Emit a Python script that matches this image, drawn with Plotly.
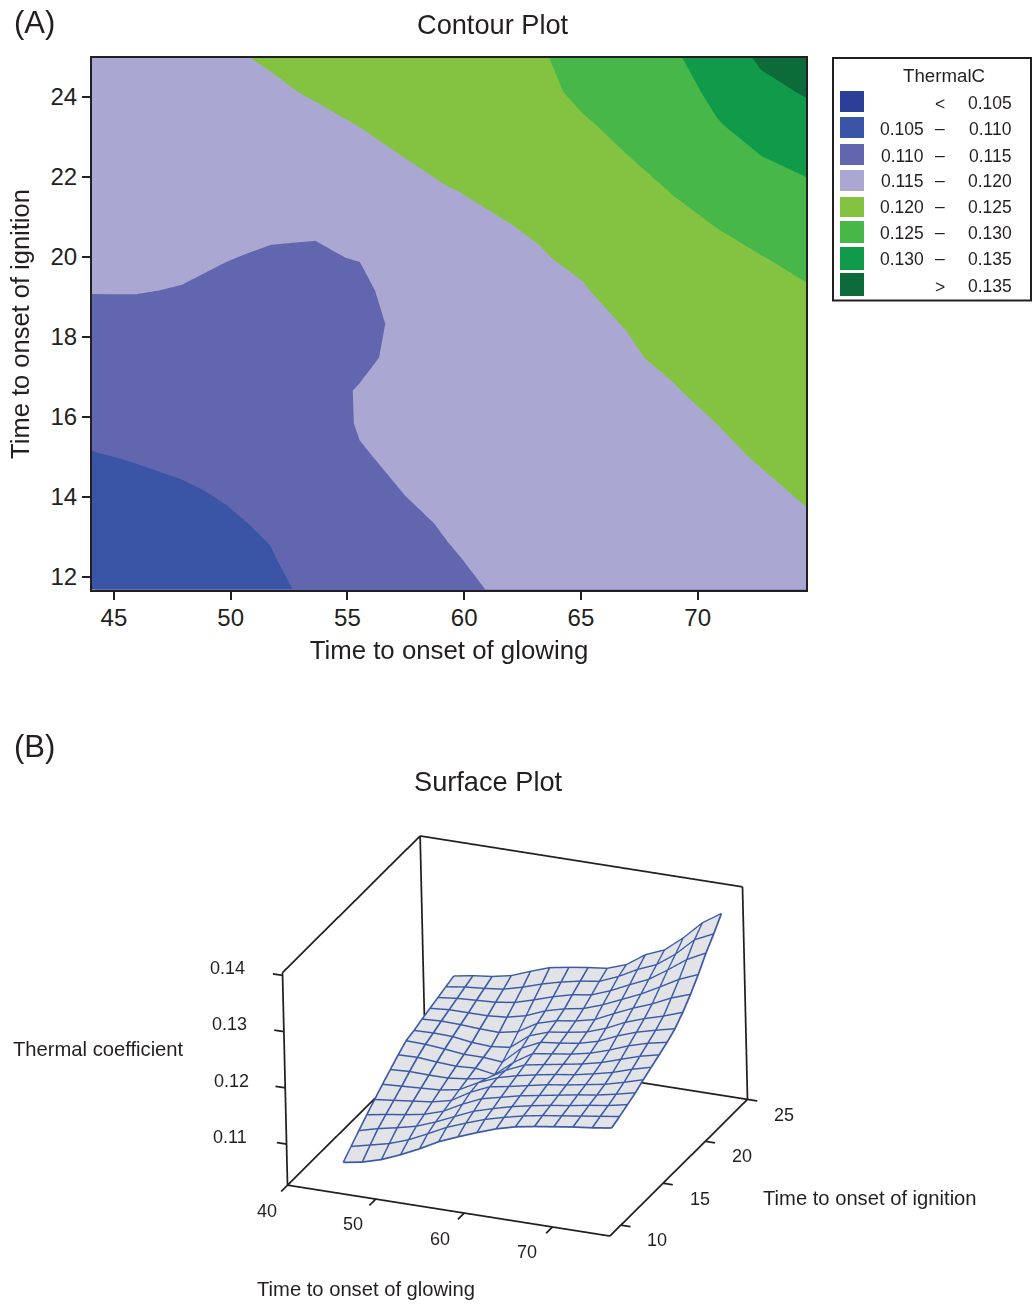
import plotly.graph_objects as go

# ---------- data ----------
# Panel A: contour grid
glowing = [44.06, 45.97, 47.88, 49.79, 51.70, 53.62, 55.53, 57.44, 59.35,
           61.26, 63.17, 65.08, 66.99, 68.90, 70.81, 72.73, 74.64]
ignition = [11.68, 12.51, 13.34, 14.17, 15.00, 15.83, 16.66, 17.49, 18.33,
            19.16, 19.99, 20.82, 21.65, 22.48, 23.31, 24.14, 24.98]
thermal = [
 [.1049,.1062,.1072,.1080,.1088,.1112,.1122,.1131,.1141,.1152,.1160,.1165,.1170,.1174,.1178,.1182,.1186],
 [.1061,.1072,.1080,.1088,.1098,.1116,.1126,.1138,.1148,.1156,.1164,.1169,.1174,.1178,.1182,.1187,.1191],
 [.1074,.1082,.1089,.1096,.1104,.1119,.1130,.1144,.1153,.1160,.1168,.1172,.1178,.1182,.1187,.1192,.1197],
 [.1086,.1092,.1097,.1103,.1109,.1123,.1139,.1151,.1158,.1165,.1171,.1176,.1181,.1186,.1191,.1196,.1203],
 [.1098,.1102,.1106,.1110,.1115,.1127,.1147,.1157,.1162,.1169,.1175,.1180,.1185,.1190,.1195,.1202,.1210],
 [.1109,.1112,.1114,.1117,.1120,.1130,.1153,.1162,.1167,.1173,.1179,.1183,.1189,.1194,.1200,.1210,.1218],
 [.1120,.1122,.1123,.1124,.1126,.1134,.1153,.1163,.1171,.1177,.1183,.1187,.1193,.1198,.1208,.1217,.1225],
 [.1130,.1132,.1131,.1130,.1131,.1137,.1140,.1163,.1176,.1181,.1186,.1191,.1197,.1205,.1217,.1225,.1232],
 [.1141,.1142,.1140,.1137,.1137,.1141,.1130,.1165,.1181,.1185,.1190,.1195,.1201,.1215,.1225,.1233,.1239],
 [.1151,.1151,.1149,.1144,.1142,.1145,.1137,.1175,.1186,.1190,.1194,.1198,.1211,.1224,.1233,.1241,.1247],
 [.1155,.1156,.1155,.1151,.1147,.1146,.1152,.1181,.1190,.1194,.1198,.1205,.1220,.1233,.1242,.1249,.1259],
 [.1160,.1161,.1161,.1158,.1155,.1154,.1164,.1187,.1195,.1198,.1203,.1215,.1230,.1242,.1251,.1264,.1275],
 [.1164,.1167,.1167,.1166,.1165,.1168,.1176,.1194,.1199,.1204,.1212,.1225,.1239,.1251,.1266,.1282,.1292],
 [.1169,.1172,.1173,.1173,.1175,.1180,.1189,.1200,.1208,.1213,.1222,.1236,.1249,.1262,.1281,.1299,.1311],
 [.1173,.1177,.1179,.1181,.1184,.1191,.1201,.1210,.1217,.1221,.1231,.1246,.1260,.1272,.1297,.1318,.1333],
 [.1178,.1183,.1185,.1188,.1194,.1204,.1214,.1221,.1226,.1230,.1240,.1258,.1271,.1282,.1310,.1338,.1354],
 [.1182,.1188,.1191,.1195,.1204,.1218,.1226,.1231,.1235,.1238,.1244,.1268,.1282,.1293,.1323,.1357,.1376],
]
# Panel B: surface mesh nodes
surf_x = [44.06, 46.24, 48.43, 50.61, 52.80, 54.98, 57.17, 59.35, 61.53, 63.72, 65.90, 68.09, 70.27, 72.46, 74.64]
surf_y = [11.08, 12.03, 12.98, 13.93, 14.88, 15.83, 16.78, 17.73, 18.68, 19.63, 20.58, 21.53, 22.48, 23.43, 24.38]
surf_z = [
 [.1042,.1048,.1058,.1072,.1088,.1106,.1120,.1133,.1145,.1154,.1160,.1165,.1170,.1174,.1179],
 [.1056,.1064,.1072,.1084,.1100,.1117,.1130,.1142,.1151,.1159,.1165,.1170,.1175,.1180,.1185],
 [.1070,.1079,.1086,.1094,.1107,.1122,.1137,.1147,.1156,.1163,.1169,.1174,.1180,.1185,.1192],
 [.1084,.1090,.1095,.1101,.1112,.1130,.1145,.1153,.1161,.1167,.1173,.1179,.1184,.1191,.1199],
 [.1097,.1101,.1105,.1109,.1117,.1137,.1152,.1158,.1165,.1172,.1177,.1183,.1189,.1198,.1208],
 [.1110,.1112,.1114,.1116,.1122,.1140,.1154,.1163,.1170,.1176,.1181,.1188,.1196,.1207,.1216],
 [.1122,.1124,.1123,.1123,.1127,.1133,.1153,.1168,.1174,.1180,.1186,.1194,.1205,.1216,.1224],
 [.1134,.1135,.1132,.1130,.1132,.1126,.1153,.1174,.1179,.1184,.1191,.1202,.1215,.1225,.1232],
 [.1145,.1144,.1141,.1137,.1137,.1134,.1164,.1180,.1184,.1189,.1198,.1213,.1225,.1234,.1242],
 [.1149,.1150,.1149,.1144,.1142,.1146,.1172,.1184,.1189,.1195,.1207,.1223,.1235,.1245,.1257],
 [.1155,.1157,.1156,.1154,.1153,.1160,.1180,.1190,.1195,.1203,.1219,.1234,.1247,.1263,.1275],
 [.1160,.1163,.1163,.1163,.1166,.1174,.1188,.1197,.1203,.1215,.1230,.1245,.1263,.1282,.1296],
 [.1165,.1169,.1171,.1173,.1178,.1188,.1199,.1208,.1213,.1226,.1242,.1257,.1279,.1303,.1320],
 [.1170,.1175,.1178,.1182,.1191,.1202,.1211,.1218,.1223,.1237,.1255,.1269,.1293,.1324,.1340],
 [.1175,.1181,.1185,.1192,.1205,.1217,.1223,.1228,.1232,.1244,.1267,.1281,.1308,.1340,.1362],
]
band_colors = ["#2b3f98", "#3a55a5", "#6266ae", "#aaa8d2", "#84c341", "#47b749", "#0f9b49", "#0d6b3a"]
legend_low = ["", "0.105", "0.110", "0.115", "0.120", "0.125", "0.130", ""]
legend_sep = ["<", "–", "–", "–", "–", "–", "–", ">"]
legend_high = ["0.105", "0.110", "0.115", "0.120", "0.125", "0.130", "0.135", "0.135"]
x3d_ticks = [40, 50, 60, 70]
y3d_ticks = [10, 15, 20, 25]
z3d_ticks = [0.11, 0.12, 0.13, 0.14]
x3d_box = [40, 76.5]
y3d_box = [8.7, 25]
z3d_box = [0.1027, 0.1405]

# ---------- style / layout ----------
W, H = 1033, 1305
FONT = "Liberation Sans"
INK = "#231f20"
WIRE = "#3c5aa8"
def xp(px): return px / W
def yp(px): return 1 - px / H

fig = go.Figure()
fig.add_trace(go.Contour(
    x=glowing, y=ignition, z=thermal, zmin=.1025, zmax=.1375, colorscale=band_colors,
    contours=dict(start=.105, end=.135, size=.005, coloring="fill", showlines=False),
    line=dict(width=0, smoothing=0), showscale=False, hoverinfo="skip"))

# filled sheet, sunk a hair below the wire so the mesh stays visible
sheet = [[v - .00008 for v in row] for row in surf_z]
fig.add_trace(go.Surface(
    x=surf_x, y=surf_y, z=sheet, scene="scene", showscale=False,
    colorscale=[[0, "#e1e3e6"], [1, "#e1e3e6"]], hoverinfo="skip",
    lighting=dict(ambient=1, diffuse=0, specular=0, roughness=1, fresnel=0)))

# wire mesh
wx, wy, wz = [], [], []
for j, yv in enumerate(surf_y):
    wx += surf_x + [None]; wy += [yv] * len(surf_x) + [None]; wz += surf_z[j] + [None]
for i, xv in enumerate(surf_x):
    wx += [xv] * len(surf_y) + [None]; wy += surf_y + [None]; wz += [r[i] for r in surf_z] + [None]
fig.add_trace(go.Scatter3d(x=wx, y=wy, z=wz, mode="lines", scene="scene", hoverinfo="skip",
                           line=dict(color=WIRE, width=3.5)))

# box and tick marks
xl, xh = x3d_box; yl, yh = y3d_box; zl, zh = z3d_box
edges = [((xl, yl, zl), (xh, yl, zl)), ((xh, yl, zl), (xh, yh, zl)), ((xh, yh, zl), (xl, yh, zl)),
         ((xl, yh, zl), (xl, yl, zl)), ((xl, yl, zl), (xl, yl, zh)), ((xl, yh, zl), (xl, yh, zh)),
         ((xh, yh, zl), (xh, yh, zh)), ((xl, yl, zh), (xl, yh, zh)), ((xl, yh, zh), (xh, yh, zh))]
edges += [((v, yl, zl), (v, yl - .75, zl)) for v in x3d_ticks]
edges += [((xh, v, zl), (xh + 1.1, v, zl)) for v in y3d_ticks]
edges += [((xl, yl, v), (xl - 1.1, yl, v)) for v in z3d_ticks]
bx, by, bz = [], [], []
for a, b in edges:
    bx += [a[0], b[0], None]; by += [a[1], b[1], None]; bz += [a[2], b[2], None]
fig.add_trace(go.Scatter3d(x=bx, y=by, z=bz, mode="lines", scene="scene", hoverinfo="skip",
                           line=dict(color=INK, width=3.5)))

ax2 = dict(ticks="outside", ticklen=8, tickwidth=2, tickcolor=INK, showline=True, linecolor=INK, linewidth=2,
           mirror=True, showgrid=False, zeroline=False, tickfont=dict(family=FONT, size=24, color=INK))
ax3 = dict(showbackground=False, showgrid=False, zeroline=False, showspikes=False, title="", showline=False,
           ticks="", showticklabels=False)

ann = []
def text(s, px, py, size=18, anchor="center", angle=0):
    ann.append(dict(text=s, x=xp(px), y=yp(py), xref="paper", yref="paper", xanchor=anchor, yanchor="middle",
                    showarrow=False, textangle=angle, font=dict(family=FONT, size=size, color=INK)))

text("(A)", 34, 23, 31); text("(B)", 34, 746, 31)
text("Contour Plot", 492.5, 24, 27.2); text("Surface Plot", 488, 781, 27.2)
text("Thermal coefficient", 98, 1049, 20.2)
text("Time to onset of ignition", 870, 1198, 20.2)
text("Time to onset of glowing", 366, 1289, 20.2)
for v, (px, py) in zip(z3d_ticks, [(230, 1137), (231, 1081), (229, 1024), (227, 968)]):
    text(f"{v:.2f}", px, py)
for v, (px, py) in zip(x3d_ticks, [(267, 1211), (353, 1224), (440, 1239), (527, 1252)]):
    text(str(v), px, py)
for v, (px, py) in zip(y3d_ticks, [(657, 1240), (700, 1199), (742, 1156), (784, 1115)]):
    text(str(v), px, py)

shapes = [dict(type="rect", xref="paper", yref="paper", x0=xp(833), x1=xp(1031), y0=yp(300.5), y1=yp(58),
               line=dict(color=INK, width=2), fillcolor="white")]
text("ThermalC", 944, 76, 18.7)
tops = [91, 117, 144, 170, 197, 221, 247, 273]
bots = [112, 138, 165, 191, 217, 243, 270, 296]
mids = [103, 129, 156, 181, 207, 233, 259, 286]
for c, t, b, m, lo, sep, hi in zip(band_colors, tops, bots, mids, legend_low, legend_sep, legend_high):
    shapes.append(dict(type="rect", xref="paper", yref="paper", x0=xp(840), x1=xp(864), y0=yp(b), y1=yp(t),
                       fillcolor=c, line=dict(width=0)))
    if lo: text(lo, 925.5, m, 17.5, "right")
    text(sep, 940, m + (1 if sep != "–" else -1), 17.5)
    text(hi, 1013.5, m, 17.5, "right")

fig.update_layout(
    width=W, height=H, margin=dict(l=0, r=0, t=0, b=0), showlegend=False, paper_bgcolor="white", plot_bgcolor="white",
    xaxis=dict(ax2, domain=[xp(92), xp(806)], range=[44.06, 74.64], tickvals=[45, 50, 55, 60, 65, 70],
               ticklabelstandoff=-3,
               title=dict(text="Time to onset of glowing", font=dict(family=FONT, size=25.8, color=INK), standoff=11)),
    yaxis=dict(ax2, domain=[yp(590), yp(58)], range=[11.675, 24.975], tickvals=[12, 14, 16, 18, 20, 22, 24],
               title=dict(text="Time to onset of ignition", font=dict(family=FONT, size=25.5, color=INK), standoff=14)),
    scene=dict(domain=dict(x=[xp(64.5), xp(964.5)], y=[0, .4123]), aspectmode="manual",
               aspectratio=dict(x=1.389, y=1.4315, z=.878),
               xaxis=dict(ax3, range=[38.8, 77.7], tickvals=x3d_ticks),
               yaxis=dict(ax3, range=[7.9, 25.8], tickvals=y3d_ticks),
               zaxis=dict(ax3, range=[.1025, .1407], tickvals=z3d_ticks),
               camera=dict(eye=dict(x=.3653 * 2, y=-.8332 * 2, z=.4153 * 2),
                           up=dict(x=-.1452, y=.3897, z=.9095), center=dict(x=0, y=0, z=0),
                           projection=dict(type="orthographic"))),
    annotations=ann, shapes=shapes)
fig.write_html("out.html", config=dict(displayModeBar=False), post_script="document.body.style.margin='0';")
